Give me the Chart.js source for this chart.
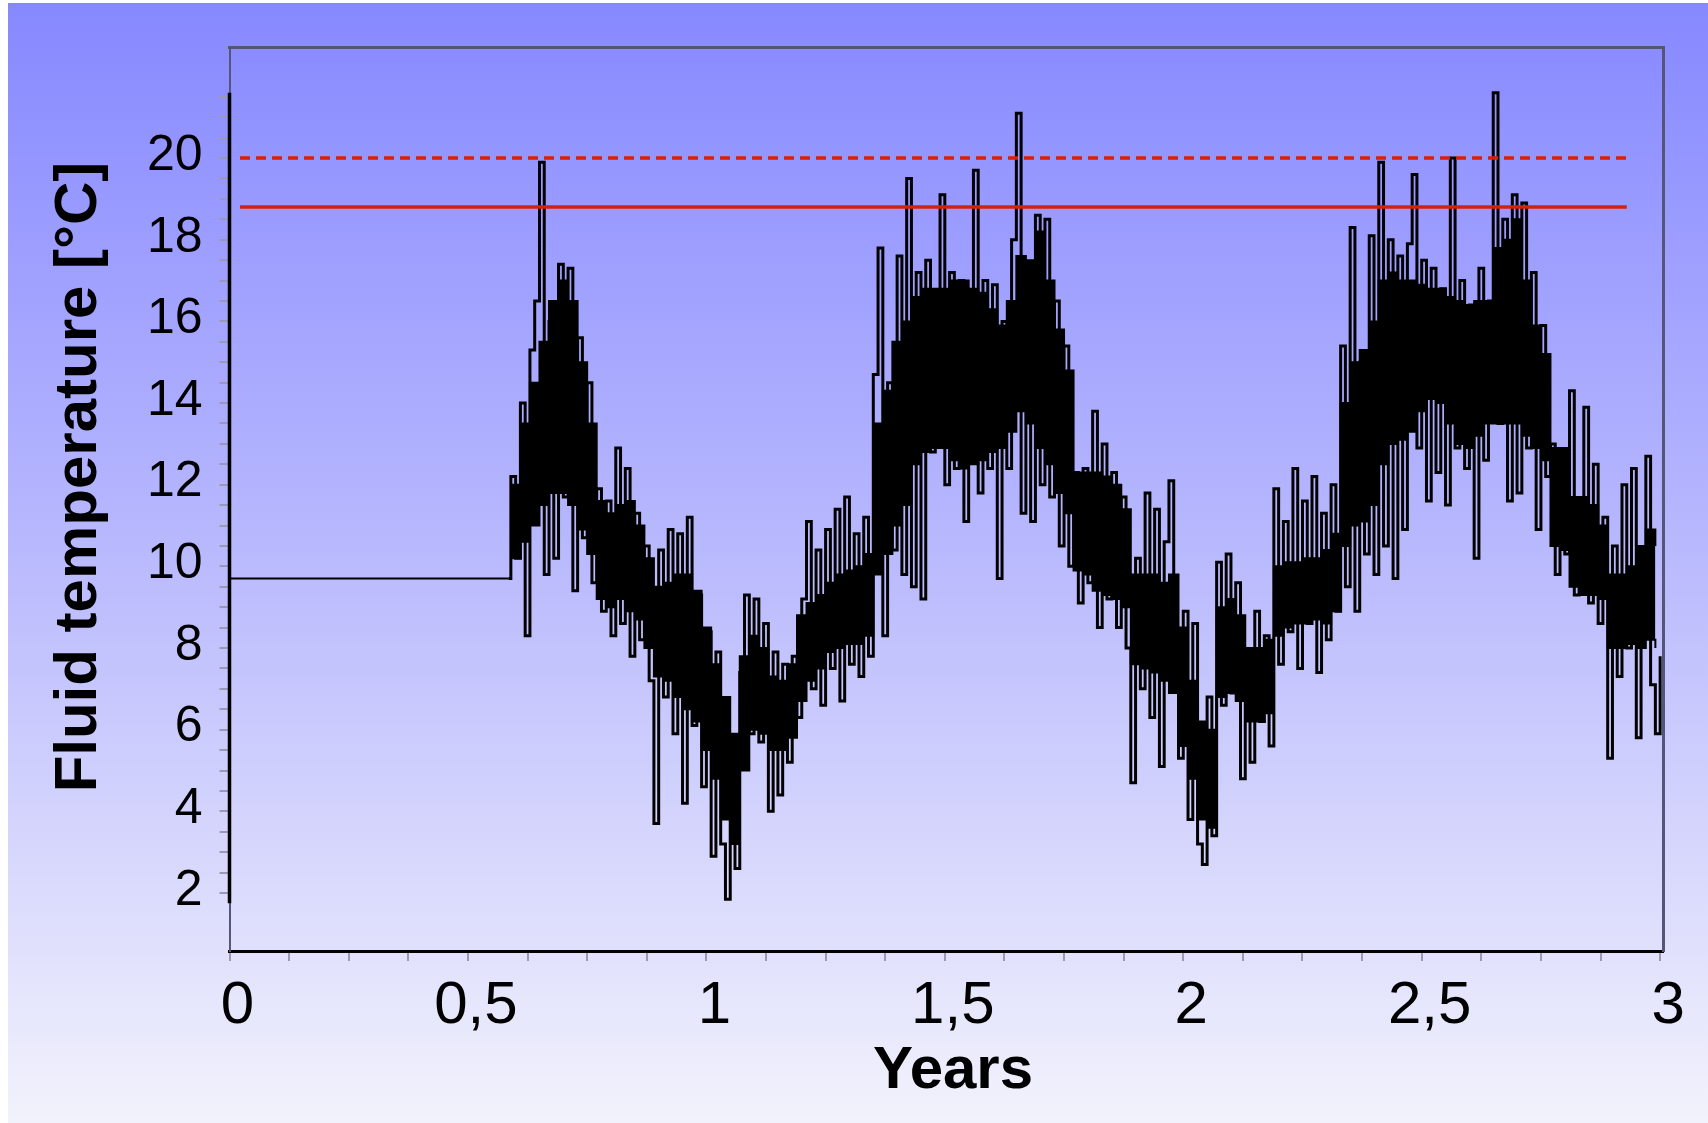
<!DOCTYPE html>
<html><head><meta charset="utf-8">
<script src="https://cdn.jsdelivr.net/npm/chart.js@4.4.1/dist/chart.umd.min.js"></script>
<style>html,body{margin:0;padding:0;background:#fff;}canvas{display:block;}</style>
</head><body>
<canvas id="c" width="1708" height="1123"></canvas>
<script>
// ---- data ----
// fluid temperature trace (spikes)
const years = [
  0, 0.585,
  0.59,0.60,0.61,0.62,0.63,0.64,0.65,0.66,0.67,0.68,
  0.69,0.70,0.71,0.72,0.73,0.74,0.75,0.76,0.77,0.78,
  0.79,0.80,0.81,0.82,0.83,0.84,0.85,0.86,0.87,0.88,
  0.89,0.90,0.91,0.92,0.93,0.94,0.95,0.96,0.97,0.98,
  0.99,1.00,1.01,1.02,1.03,1.04,1.05,1.06,1.07,1.08,
  1.09,1.10,1.11,1.12,1.13,1.14,1.15,1.16,1.17,1.18,
  1.19,1.20,1.21,1.22,1.23,1.24,1.25,1.26,1.27,1.28,
  1.29,1.30,1.31,1.32,1.33,1.34,1.35,1.36,1.37,1.38,
  1.39,1.40,1.41,1.42,1.43,1.44,1.45,1.46,1.47,1.48,
  1.49,1.50,1.51,1.52,1.53,1.54,1.55,1.56,1.57,1.58,
  1.59,1.60,1.61,1.62,1.63,1.64,1.65,1.66,1.67,1.68,
  1.69,1.70,1.71,1.72,1.73,1.74,1.75,1.76,1.77,1.78,
  1.79,1.80,1.81,1.82,1.83,1.84,1.85,1.86,1.87,1.88,
  1.89,1.90,1.91,1.92,1.93,1.94,1.95,1.96,1.97,1.98,
  1.99,2.00,2.01,2.02,2.03,2.04,2.05,2.06,2.07,2.08,
  2.09,2.10,2.11,2.12,2.13,2.14,2.15,2.16,2.17,2.18,
  2.19,2.20,2.21,2.22,2.23,2.24,2.25,2.26,2.27,2.28,
  2.29,2.30,2.31,2.32,2.33,2.34,2.35,2.36,2.37,2.38,
  2.39,2.40,2.41,2.42,2.43,2.44,2.45,2.46,2.47,2.48,
  2.49,2.50,2.51,2.52,2.53,2.54,2.55,2.56,2.57,2.58,
  2.59,2.60,2.61,2.62,2.63,2.64,2.65,2.66,2.67,2.68,
  2.69,2.70,2.71,2.72,2.73,2.74,2.75,2.76,2.77,2.78,
  2.79,2.80,2.81,2.82,2.83,2.84,2.85,2.86,2.87,2.88,
  2.89,2.90,2.91,2.92,2.93,2.94,2.95,2.96,2.97,2.98,
  2.99,3.00
];
const temps = [
  9.7, 9.7,
  12.2,10.2,14.0,8.3,15.3,16.5,19.9,9.8,16.0,10.2,
  17.4,11.7,17.3,9.4,15.6,10.7,14.5,9.6,11.9,8.9,
  11.6,8.3,12.9,8.6,12.4,7.8,11.3,8.2,10.5,7.2,
  3.7,10.4,6.8,10.9,5.9,10.8,4.2,11.2,6.1,9.3,
  4.6,8.4,2.9,7.9,3.2,1.85,5.8,2.6,7.4,9.3,
  5.9,9.2,5.7,8.6,4.0,7.9,4.4,7.6,5.2,7.8,
  6.3,9.2,11.1,7.0,10.4,6.6,10.9,7.5,11.4,6.7,
  11.7,7.6,10.8,7.3,11.2,7.8,14.7,17.8,8.3,14.5,
  10.4,17.6,9.8,19.5,9.5,17.2,9.2,17.5,12.8,16.5,
  19.1,12.0,17.2,12.4,17.0,11.1,15.5,19.7,11.8,17.0,
  12.4,16.9,9.7,16.0,12.4,18.0,21.1,11.3,17.2,11.1,
  18.6,12.0,18.5,11.7,16.5,10.5,15.4,10.0,12.3,9.1,
  12.4,9.6,13.8,8.5,13.0,9.2,12.3,8.5,11.7,8.0,
  4.7,10.2,7.0,11.8,6.3,11.4,5.1,10.6,12.1,7.2,
  5.3,8.9,3.8,8.6,3.2,2.7,6.8,3.4,10.1,6.6,
  10.3,6.9,9.6,4.8,7.9,5.2,8.9,6.2,8.3,5.6,
  11.9,7.6,11.1,8.4,12.4,7.5,11.6,8.6,12.2,7.4,
  11.3,8.2,12.0,8.9,15.4,9.5,18.3,8.9,15.0,10.3,
  18.1,9.8,19.9,10.5,18.0,9.7,17.6,10.9,17.9,19.6,
  12.9,17.5,11.6,17.3,12.3,16.8,11.5,20.0,12.9,17.0,
  12.4,16.4,10.2,17.3,12.6,16.5,21.6,13.5,18.5,11.6,
  19.1,11.8,18.9,12.9,17.2,10.9,15.9,12.2,13.0,9.8,
  12.7,10.3,14.3,9.3,10.0,13.9,9.1,12.5,8.6,11.2,
  5.3,10.5,7.3,12.0,8.0,12.4,5.8,10.0,12.7,7.1,
  5.9,7.8
];
// dense core of the daily trace (where the black is solid): lower / upper edge
const coreYears = [
  0.59,0.61,0.63,0.65,0.67,0.69,0.71,0.73,0.75,0.77,
  0.79,0.81,0.83,0.85,0.87,0.89,0.91,0.93,0.95,0.97,
  0.99,1.01,1.03,1.05,1.07,1.09,1.11,1.13,1.15,1.17,
  1.19,1.21,1.23,1.25,1.27,1.29,1.31,1.33,1.35,1.37,
  1.39,1.41,1.43,1.45,1.47,1.49,1.51,1.53,1.55,1.57,
  1.59,1.61,1.63,1.65,1.67,1.69,1.71,1.73,1.75,1.77,
  1.79,1.81,1.83,1.85,1.87,1.89,1.91,1.93,1.95,1.97,
  1.99,2.01,2.03,2.05,2.07,2.09,2.11,2.13,2.15,2.17,
  2.19,2.21,2.23,2.25,2.27,2.29,2.31,2.33,2.35,2.37,
  2.39,2.41,2.43,2.45,2.47,2.49,2.51,2.53,2.55,2.57,
  2.59,2.61,2.63,2.65,2.67,2.69,2.71,2.73,2.75,2.77,
  2.79,2.81,2.83,2.85,2.87,2.89,2.91,2.93,2.95,2.97,
  2.99
];
const coreLow = [
  10.2,10.6,11.0,11.5,11.8,11.8,11.5,10.9,10.3,9.2,
  9.0,9.2,8.9,8.7,8.0,7.3,7.2,6.8,6.5,6.2,
  5.5,4.8,3.8,3.2,5.0,6.0,5.9,5.5,5.5,5.8,
  6.7,7.2,7.5,7.9,8.0,8.1,8.1,8.3,9.8,10.3,
  11.0,11.5,12.5,12.8,12.9,12.9,12.6,12.4,12.5,12.6,
  12.8,12.9,13.3,13.8,13.5,12.9,12.5,11.8,11.3,9.9,
  9.8,9.4,9.3,9.2,9.0,7.6,7.5,7.4,7.2,6.9,
  5.6,4.8,3.8,3.6,6.8,6.9,6.7,6.2,6.2,6.4,
  8.3,8.5,8.6,8.6,8.7,8.6,8.9,10.5,11.0,11.1,
  11.5,12.5,13.0,13.1,13.3,13.8,14.1,14.0,13.5,13.0,
  12.9,13.2,13.5,13.5,13.5,13.5,13.2,12.9,12.6,10.5,
  10.4,9.5,9.3,9.3,9.2,8.0,8.0,8.1,8.0,8.2,
  8.0
];
const coreHigh = [
  12.0,13.5,14.5,15.5,16.5,17.0,16.5,15.0,13.5,11.6,
  11.3,11.5,11.6,11.0,10.2,9.5,9.6,9.8,9.8,9.4,
  8.5,7.6,6.8,5.9,7.8,8.3,8.0,7.3,7.2,7.6,
  8.8,9.1,9.3,9.6,9.8,9.9,10.0,10.3,13.5,14.3,
  15.5,16.0,16.6,16.8,16.8,16.8,17.0,17.0,16.8,16.7,
  16.3,15.9,16.5,17.6,17.5,18.2,17.0,15.8,14.8,12.3,
  12.3,12.3,12.2,12.0,11.4,9.8,9.8,9.8,9.6,9.8,
  8.5,7.2,6.2,6.0,9.0,9.2,8.8,8.0,8.0,8.2,
  10.0,10.1,10.1,10.2,10.2,10.4,10.8,14.0,15.0,15.3,
  16.0,17.0,17.2,17.0,17.0,16.9,16.8,16.8,16.6,16.5,
  16.4,16.5,16.5,17.8,18.0,18.5,17.0,15.9,15.2,12.9,
  12.9,11.7,11.7,11.5,11.0,9.8,9.8,10.0,10.5,10.9,
  10.5
];
// data range shown by the thick left axis line
const rangeYears = [0, 0];
const rangeTemps = [1.75, 21.6];
// limit lines
const limitYears = [0.022, 2.93];
const limitSolid = [18.8, 18.8];
const limitDashed = [20, 20];
// ticks
const yTickMarks = [2,2.5,3,3.5,4,4.5,5,5.5,6,6.5,7,7.5,8,8.5,9,9.5,10,10.5,11,11.5,12,12.5,13,13.5,14,14.5,15,15.5,16,16.5,17,17.5,18,18.5,19,19.5,20,20.5,21,21.5];
const yLabelValues = [2,4,6,8,10,12,14,16,18,20];
const yLabelTexts = ['2','4','6','8','10','12','14','16','18','20'];
const xTickMarks = [0,0.125,0.25,0.375,0.5,0.625,0.75,0.875,1,1.125,1.25,1.375,1.5,1.625,1.75,1.875,2,2.125,2.25,2.375,2.5,2.625,2.75,2.875,3];
const xLabelValues = [0,0.5,1,1.5,2,2.5,3];
const xLabelTexts = ['0','0,5','1','1,5','2','2,5','3'];
const xTitle = 'Years';
const yTitle = 'Fluid temperature [°C]';

// ---- chart ----
const FONT = '"Liberation Sans", Arial, sans-serif';
const RED = 'rgb(214,32,12)';
const TICK = '#9a9ab4';
const BOX = '#55557a';
const toPts = (xs, ys) => xs.map((x, i) => ({x: x, y: ys[i]}));

const bgPlugin = {
  id: 'bg',
  beforeDraw(chart) {
    const {ctx, width, height} = chart;
    ctx.save();
    ctx.fillStyle = '#ffffff';
    ctx.fillRect(0, 0, width, height);
    const g = ctx.createLinearGradient(0, 3, 0, height);
    g.addColorStop(0, 'rgb(134,136,255)');
    g.addColorStop(0.5, 'rgb(186,186,254)');
    g.addColorStop(1, 'rgb(242,242,252)');
    ctx.fillStyle = g;
    ctx.fillRect(8, 3, width - 8, height - 3);
    ctx.restore();
  }
};
const titlePlugin = {
  id: 'axisTitles',
  afterDraw(chart) {
    const ctx = chart.ctx;
    ctx.save();
    ctx.fillStyle = '#000';
    ctx.textAlign = 'center';
    ctx.textBaseline = 'middle';
    ctx.font = 'bold 60px ' + FONT;
    ctx.fillText(xTitle, 953, 1071);
    ctx.translate(79, 477);
    ctx.rotate(-Math.PI / 2);
    ctx.fillText(yTitle, 0, 0);
    ctx.restore();
  }
};

new Chart(document.getElementById('c'), {
  type: 'line',
  data: {
    datasets: [
      {label: 'limit (dashed)', data: toPts(limitYears, limitDashed), borderColor: RED, borderWidth: 3.5, borderDash: [10, 6], pointRadius: 0, xAxisID: 'x', yAxisID: 'y'},
      {label: 'limit', data: toPts(limitYears, limitSolid), borderColor: RED, borderWidth: 3.5, pointRadius: 0, xAxisID: 'x', yAxisID: 'y'},
      {label: 'range', data: toPts(rangeYears, rangeTemps), borderColor: '#000', borderWidth: 3.5, pointRadius: 0, clip: false, xAxisID: 'x', yAxisID: 'y'},
      {label: 'Fluid temperature', data: toPts(years, temps), borderColor: '#000', borderWidth: 3, pointRadius: 0, stepped: true,
       segment: {borderWidth: c => (c.p0.parsed.x < 0.58 ? 2 : 3)}, xAxisID: 'x', yAxisID: 'y'},
      {label: 'core low', data: toPts(coreYears, coreLow), borderColor: '#000', borderWidth: 2, pointRadius: 0, stepped: true, fill: false, xAxisID: 'x', yAxisID: 'y'},
      {label: 'core high', data: toPts(coreYears, coreHigh), borderColor: '#000', borderWidth: 2, pointRadius: 0, stepped: true, fill: '-1', backgroundColor: '#000', xAxisID: 'x', yAxisID: 'y'}
    ]
  },
  options: {
    responsive: false,
    animation: false,
    devicePixelRatio: 1,
    events: [],
    layout: {padding: {left: 0, top: 47, right: 45, bottom: 0}},
    plugins: {legend: {display: false}, tooltip: {enabled: false}},
    scales: {
      x: {
        type: 'linear', position: 'bottom', min: 0, max: 3.006,
        afterFit(s) { s.height = 172; },
        afterBuildTicks(s) { s.ticks = xTickMarks.map(v => ({value: v})); },
        ticks: {
          autoSkip: false, maxRotation: 0, minRotation: 0, padding: 15, labelOffset: 8,
          color: '#000', font: {family: FONT, size: 60, lineHeight: 1},
          callback(v) { const i = xLabelValues.indexOf(v); return i < 0 ? '' : xLabelTexts[i]; }
        },
        grid: {drawOnChartArea: false, drawTicks: true, tickLength: 10, tickColor: TICK, tickWidth: 2, color: TICK, lineWidth: 2},
        border: {display: true, color: '#000', width: 3}
      },
      y: {
        type: 'linear', position: 'left', min: 0.58, max: 22.72,
        afterFit(s) { s.width = 229.5; },
        afterBuildTicks(s) { s.ticks = yTickMarks.map(v => ({value: v})); },
        ticks: {
          autoSkip: false, padding: 17, labelOffset: -2,
          color: '#000', font: {family: FONT, size: 50, lineHeight: 1},
          callback(v) { const i = yLabelValues.indexOf(v); return i < 0 ? '' : yLabelTexts[i]; }
        },
        grid: {drawOnChartArea: false, drawTicks: true, tickLength: 10, tickColor: TICK, tickWidth: 2, color: TICK, lineWidth: 2},
        border: {display: true, color: BOX, width: 2}
      },
      xTop: {
        type: 'linear', position: 'top', min: 0, max: 1,
        afterFit(s) { s.height = 0; },
        ticks: {display: false},
        grid: {display: false},
        border: {display: true, color: BOX, width: 3}
      },
      yRight: {
        type: 'linear', position: 'right', min: 0, max: 1,
        afterFit(s) { s.width = 0; },
        ticks: {display: false},
        grid: {display: false},
        border: {display: true, color: BOX, width: 3}
      }
    }
  },
  plugins: [bgPlugin, titlePlugin]
});
</script>
</body></html>
